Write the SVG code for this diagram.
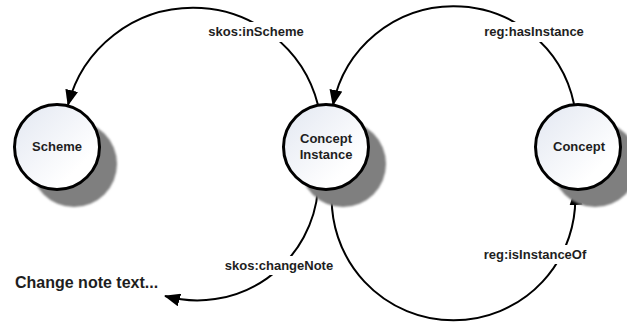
<svg xmlns="http://www.w3.org/2000/svg" width="627" height="323" viewBox="0 0 627 323">
<defs>
<style>
.node{fill:url(#g);stroke:#000;stroke-width:3}
.shadow{fill:#7f7f7f;filter:url(#blur)}
.nt{font-family:"Liberation Sans",Arial,sans-serif;font-weight:bold;font-size:13px;fill:#1e1e1e;text-anchor:middle}
.lbl{font-family:"Liberation Sans",Arial,sans-serif;font-weight:bold;font-size:13px;fill:#1e1e1e;text-anchor:middle}
.bg{fill:#fff}
.edge{fill:none;stroke:#000;stroke-width:2}
</style>
<linearGradient id="g" x1="0" y1="0" x2="1" y2="1">
<stop offset="0" stop-color="#e2e7f1"/>
<stop offset="0.75" stop-color="#ffffff"/>
</linearGradient>
<filter id="blur" x="-20%" y="-20%" width="140%" height="140%">
<feGaussianBlur stdDeviation="1.2"/>
</filter>
<marker id="arr" markerUnits="userSpaceOnUse" markerWidth="16" markerHeight="13" viewBox="0 0 16 13" refX="15" refY="6.5" orient="auto">
<path d="M0,0 L16,6.5 L0,13 Z" fill="#000"/>
</marker>
</defs>
<rect width="627" height="323" fill="#fff"/>
<g id="connectors">
<path class="edge" d="M318,105 A129,129 0 0 0 68,105" marker-end="url(#arr)"/>
<path class="edge" d="M574,104 A123,123 0 0 0 333,105" marker-end="url(#arr)"/>
<path class="edge" d="M318,189 A121,121 0 0 1 165,296" marker-end="url(#arr)"/>
<path class="edge" d="M332,190 A121.8,121.8 0 1 0 575,190" marker-end="url(#arr)"/>
<rect class="bg" x="204" y="22" width="104" height="20"/>
<text class="lbl" x="256" y="36">skos:inScheme</text>
<rect class="bg" x="480" y="22" width="108" height="20"/>
<text class="lbl" x="534" y="36">reg:hasInstance</text>
<rect class="bg" x="220" y="256" width="118" height="19"/>
<text class="lbl" x="279" y="270">skos:changeNote</text>
<rect class="bg" x="479" y="245" width="112" height="19"/>
<text class="lbl" x="535" y="259">reg:isInstanceOf</text>
</g>
<g id="scheme">
<circle class="shadow" cx="74" cy="164" r="43"/>
<circle class="node" cx="57" cy="147" r="42.5"/>
<text class="nt" x="57" y="151">Scheme</text>
</g>
<g id="concept-instance">
<circle class="shadow" cx="343" cy="164" r="43"/>
<circle class="node" cx="326" cy="147" r="42.5"/>
<text class="nt" x="326" y="143">Concept</text>
<text class="nt" x="326" y="158.5">Instance</text>
</g>
<g id="concept">
<circle class="shadow" cx="595" cy="164" r="43"/>
<circle class="node" cx="578" cy="147" r="42.5"/>
<text class="nt" x="579" y="151">Concept</text>
</g>
<g id="change-note">
<text x="15" y="288" font-family="'Liberation Sans',Arial,sans-serif" font-weight="bold" font-size="16" fill="#1e1e1e">Change note text...</text>
</g>
</svg>
